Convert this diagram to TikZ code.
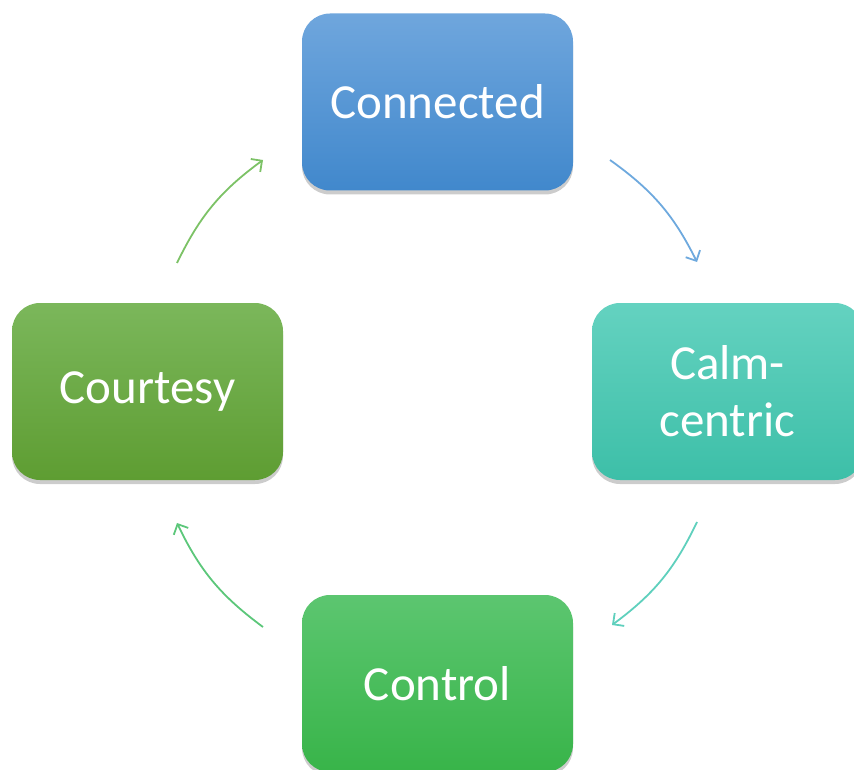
\documentclass[tikz,border=0pt]{standalone}
\usepackage{fontspec}
\setmainfont{Carlito}
\usetikzlibrary{arrows.meta,shadows}
\definecolor{blueT}{HTML}{6FA6DD}
\definecolor{blueB}{HTML}{4188CC}
\definecolor{tealT}{HTML}{64D2C0}
\definecolor{tealB}{HTML}{3DBFA8}
\definecolor{grnT}{HTML}{5CC670}
\definecolor{grnB}{HTML}{38B449}
\definecolor{oliT}{HTML}{7BB75B}
\definecolor{oliB}{HTML}{5E9D32}
\definecolor{arBlue}{HTML}{6EA9DE}
\definecolor{arTeal}{HTML}{5FD0BD}
\definecolor{arGrn}{HTML}{5CC77A}
\definecolor{arOli}{HTML}{7CC266}
\tikzset{
  box/.style={rounded corners=28pt, minimum width=271pt, minimum height=177pt,
    inner sep=0pt, text=white, align=center,
    font=\fontsize{49}{57}\selectfont,
    drop shadow={shadow xshift=0pt, shadow yshift=-4pt, opacity=0.2, fill=black}},
  cyc/.style={line width=1.8pt, -{Straight Barb[length=8pt,width=16pt,line width=1.8pt]}},
}
\begin{document}
\begin{tikzpicture}[x=1pt,y=-1pt]
\useasboundingbox (0,0) rectangle (854,770);
\node[box, top color=blueT, bottom color=blueB] (conn) at (437.5,102) {Connected};
\node[box, top color=tealT, bottom color=tealB] (calm) at (727.5,391.5) {Calm-\\centric};
\node[box, top color=grnT, bottom color=grnB] (ctrl) at (437.5,683.5) {Control};
\node[box, top color=oliT, bottom color=oliB] (court) at (147.5,391.5) {Courtesy};
\coordinate (a1) at (610,160);
\coordinate (a2) at (697,262);
\coordinate (b1) at (697,522);
\coordinate (b2) at (612,625);
\coordinate (c1) at (263,627);
\coordinate (c2) at (177,523);
\coordinate (d1) at (177,263);
\coordinate (d2) at (263,160);
\draw[cyc, arBlue] (a1) to[bend left=14] (a2);
\draw[cyc, arTeal] (b1) to[bend left=14] (b2);
\draw[cyc, arGrn] (c1) to[bend left=14] (c2);
\draw[cyc, arOli] (d1) to[bend left=14] (d2);
\end{tikzpicture}
\end{document}
